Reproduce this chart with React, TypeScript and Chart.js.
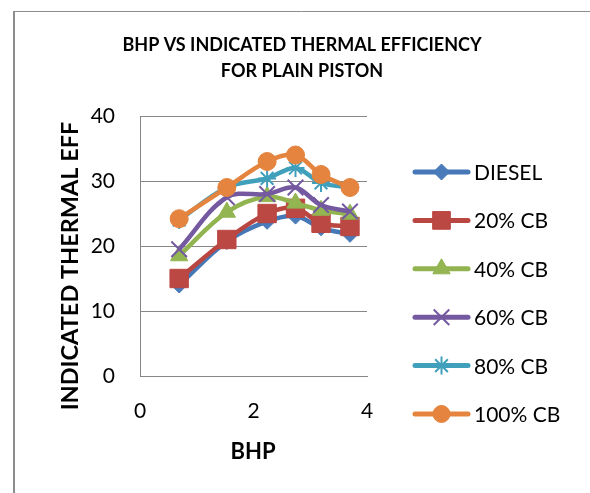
import React, { useEffect, useRef } from "react";
import { Chart, registerables } from "chart.js";

Chart.register(...registerables);

// Brake horse power readings (x) shared by every fuel blend
const bhp = [0.69, 1.53, 2.24, 2.74, 3.19, 3.7];

// Indicated thermal efficiency (%) for each fuel blend
const diesel = [14.0, 20.7, 23.8, 24.6, 22.8, 21.8];
const cb20 = [15.0, 21.0, 25.0, 25.8, 23.5, 23.0];
const cb40 = [18.5, 25.2, 27.6, 26.6, 25.5, 24.9];
const cb60 = [19.5, 27.5, 28.0, 29.0, 26.3, 25.3];
const cb80 = [24.0, 29.0, 30.4, 32.0, 29.7, 29.0];
const cb100 = [24.2, 29.0, 33.0, 34.0, 31.0, 29.0];

const seriesNames = ["DIESEL", "20% CB", "40% CB", "60% CB", "80% CB", "100% CB"];
const seriesValues = [diesel, cb20, cb40, cb60, cb80, cb100];

const chartTitle = ["BHP VS INDICATED THERMAL EFFICIENCY", "FOR PLAIN PISTON"];
const xTitle = "BHP";
const yTitle = "INDICATED THERMAL EFF";
const xTicks = [0, 2, 4];
const yTicks = [0, 10, 20, 30, 40];

type MarkerStyle = {
  line: string;
  fill: string;
  point: string;
  radius: number;
  keyRadius: number;
  borderWidth: number;
};

const markerStyles: MarkerStyle[] = [
  { line: "#4677B6", fill: "#4A7CBB", point: "rectRot", radius: 8, keyRadius: 8, borderWidth: 1 },
  { line: "#BA4642", fill: "#BC4844", point: "rect", radius: 13, keyRadius: 12.5, borderWidth: 1 },
  { line: "#92B450", fill: "#93B552", point: "triangle", radius: 10, keyRadius: 10, borderWidth: 1 },
  { line: "#7459A0", fill: "#7459A0", point: "crossRot", radius: 11, keyRadius: 11, borderWidth: 2 },
  { line: "#40A0BB", fill: "#40A0BB", point: "star", radius: 9, keyRadius: 9, borderWidth: 2 },
  { line: "#E4843E", fill: "#E4843E", point: "circle", radius: 9, keyRadius: 8.5, borderWidth: 1 },
];

const FONT = "Lato, 'Open Sans', sans-serif";
const GRID = "#878787";
const FRAME = "#8C8C8C";

function drawMarker(ctx: CanvasRenderingContext2D, s: MarkerStyle, x: number, y: number, r: number) {
  ctx.save();
  ctx.beginPath();
  ctx.fillStyle = s.fill;
  ctx.strokeStyle = s.line;
  ctx.lineWidth = s.borderWidth;
  const q = Math.SQRT1_2 * r;
  switch (s.point) {
    case "rectRot":
      ctx.moveTo(x - r, y);
      ctx.lineTo(x, y - r);
      ctx.lineTo(x + r, y);
      ctx.lineTo(x, y + r);
      ctx.closePath();
      ctx.fill();
      ctx.stroke();
      break;
    case "rect":
      ctx.rect(x - q, y - q, 2 * q, 2 * q);
      ctx.fill();
      ctx.stroke();
      break;
    case "triangle":
      ctx.moveTo(x, y - r);
      ctx.lineTo(x + 0.866 * r, y + 0.5 * r);
      ctx.lineTo(x - 0.866 * r, y + 0.5 * r);
      ctx.closePath();
      ctx.fill();
      ctx.stroke();
      break;
    case "crossRot":
      ctx.moveTo(x - q, y - q);
      ctx.lineTo(x + q, y + q);
      ctx.moveTo(x + q, y - q);
      ctx.lineTo(x - q, y + q);
      ctx.stroke();
      break;
    case "star":
      ctx.moveTo(x, y - r);
      ctx.lineTo(x, y + r);
      ctx.moveTo(x - r, y);
      ctx.lineTo(x + r, y);
      ctx.moveTo(x - q, y - q);
      ctx.lineTo(x + q, y + q);
      ctx.moveTo(x + q, y - q);
      ctx.lineTo(x - q, y + q);
      ctx.stroke();
      break;
    default:
      ctx.arc(x, y, r, 0, Math.PI * 2);
      ctx.fill();
      ctx.stroke();
  }
  ctx.restore();
}

// Outer frame, titles and the series key
const decorations = {
  id: "decorations",
  beforeDraw(chart: Chart) {
    const ctx = chart.ctx;
    ctx.save();
    ctx.fillStyle = "#FFFFFF";
    ctx.fillRect(0, 0, chart.width, chart.height);
    ctx.strokeStyle = FRAME;
    ctx.lineWidth = 2;
    ctx.beginPath();
    ctx.moveTo(14, 11);
    ctx.lineTo(14, chart.height);
    ctx.stroke();
    ctx.lineWidth = 1;
    ctx.beginPath();
    ctx.moveTo(13, 11.5);
    ctx.lineTo(chart.width, 11.5);
    ctx.stroke();
    ctx.restore();
  },
  afterDraw(chart: Chart) {
    const ctx = chart.ctx;
    ctx.save();
    ctx.fillStyle = "#000000";
    ctx.textBaseline = "alphabetic";

    // chart heading
    ctx.font = `bold 18px ${FONT}`;
    ctx.textAlign = "center";
    ctx.fillText(chartTitle[0], 302, 51);
    ctx.fillText(chartTitle[1], 302, 77);

    // axis titles
    ctx.font = `bold 22px ${FONT}`;
    ctx.fillText(xTitle, 253, 459);
    ctx.save();
    ctx.font = `bold 23.5px ${FONT}`;
    ctx.translate(78, 266);
    ctx.rotate(-Math.PI / 2);
    ctx.fillText(yTitle, 0, 0);
    ctx.restore();

    // key
    ctx.font = `21px ${FONT}`;
    ctx.textAlign = "left";
    seriesNames.forEach((name, i) => {
      const s = markerStyles[i];
      const cy = 172 + i * 48.4;
      ctx.save();
      ctx.strokeStyle = s.line;
      ctx.lineWidth = 5;
      ctx.lineCap = "round";
      ctx.beginPath();
      ctx.moveTo(415, cy);
      ctx.lineTo(468, cy);
      ctx.stroke();
      ctx.restore();
      drawMarker(ctx, s, 441.5, cy, s.keyRadius);
      ctx.fillStyle = "#000000";
      ctx.fillText(name, 474, cy + 8);
    });
    ctx.restore();
  },
};

export default function App() {
  const canvasRef = useRef<HTMLCanvasElement | null>(null);

  useEffect(() => {
    const canvas = canvasRef.current;
    if (!canvas) return;
    Chart.defaults.font.family = FONT;

    const datasets = seriesNames.map((name, i) => {
      const s = markerStyles[i];
      return {
        label: name,
        data: bhp.map((x, j) => ({ x, y: seriesValues[i][j] })),
        borderColor: s.line,
        backgroundColor: s.fill,
        borderWidth: 4.5,
        tension: 0.35,
        pointStyle: s.point as any,
        pointRadius: s.radius,
        pointBorderColor: s.line,
        pointBackgroundColor: s.fill,
        pointBorderWidth: s.borderWidth,
        order: seriesNames.length - i,
        clip: false as any,
      };
    });

    const chart = new Chart(canvas, {
      type: "line",
      data: { datasets },
      plugins: [decorations],
      options: {
        animation: false,
        responsive: false,
        maintainAspectRatio: false,
        events: [],
        layout: { padding: { top: 116, right: 223, bottom: 0, left: 0 } },
        plugins: {
          legend: { display: false },
          title: { display: false },
          tooltip: { enabled: false },
        },
        scales: {
          x: {
            type: "linear",
            min: 0,
            max: 4,
            afterBuildTicks: (scale: any) => {
              scale.ticks = xTicks.map((v) => ({ value: v }));
            },
            afterFit: (scale: any) => {
              scale.height = 117;
            },
            grid: { display: false, drawTicks: false },
            border: { display: true, color: GRID, width: 1 },
            ticks: { color: "#000000", font: { size: 21, family: FONT }, padding: 23, maxRotation: 0 },
          },
          y: {
            type: "linear",
            min: 0,
            max: 40,
            afterBuildTicks: (scale: any) => {
              scale.ticks = yTicks.map((v) => ({ value: v }));
            },
            afterFit: (scale: any) => {
              scale.width = 140;
            },
            grid: { display: true, color: GRID, lineWidth: 1, drawTicks: false },
            border: { display: true, color: GRID, width: 1 },
            ticks: { color: "#000000", font: { size: 21, family: FONT }, padding: 25 },
          },
        },
      },
    });
    return () => chart.destroy();
  }, []);

  return (
    <div style={{ position: "fixed", left: 0, top: 0, width: 590, height: 493, background: "#fff" }}>
      <canvas ref={canvasRef} width={590} height={493} style={{ display: "block" }} />
    </div>
  );
}
